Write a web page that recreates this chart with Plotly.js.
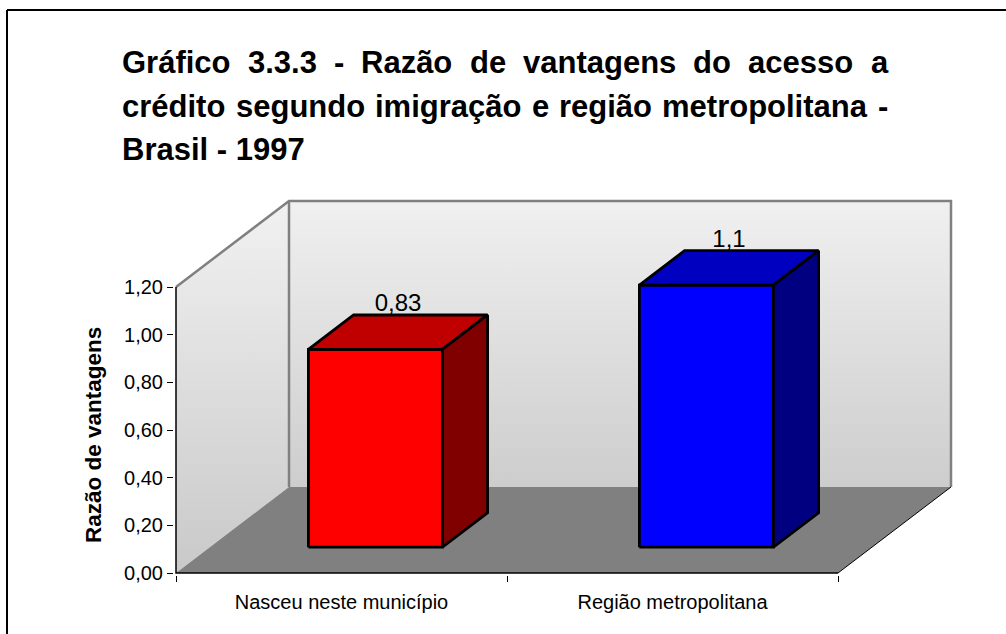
<!DOCTYPE html>
<html><head><meta charset="utf-8">
<script src="https://cdn.plot.ly/plotly-3.0.1.min.js"></script>
<style>html,body{margin:0;padding:0;background:#fff;overflow:hidden}#chart{width:1006px;height:634px;display:block}</style>
</head><body><div id="chart"></div>
<script>
// ---- data ----
const categories = ['Nasceu neste município', 'Região metropolitana'];
const values = [0.83, 1.1];
const valueLabels = ['0,83', '1,1'];
const yTickVals = [0, 0.2, 0.4, 0.6, 0.8, 1.0, 1.2];
const yTickText = ['0,00', '0,20', '0,40', '0,60', '0,80', '1,00', '1,20'];
const titleLines = [
  'Gráfico 3.3.3 - Razão de vantagens do acesso a',
  'crédito segundo imigração e região metropolitana -',
  'Brasil - 1997'
];
const yTitle = 'Razão de vantagens';
const frontColors = ['#ff0000', '#0000ff'];
const topColors = ['#c00000', '#0000c0'];
const sideColors = ['#800000', '#000080'];

// ---- geometry ----
const W = 1006, H = 634;
const PL = 174, PR = 954, PT = 199, PB = 575;   // plot area in px
const X0PX = 176, Y0PX = 573;                   // pixel of x=-0.5, y=0
const xPU = 331, yPU = 286 / 1.2;
const xRange = [-0.5 - (X0PX - PL) / xPU, -0.5 + (PR - X0PX) / xPU];
const yRange = [-(PB - Y0PX) / yPU, (Y0PX - PT) / yPU];
const dX = 113 / xPU, dY = 86 / yPU;   // depth of the 3D box
const yMax = 1.2;
const xL = -0.5, xR = categories.length - 0.5;
const hw = 67 / xPU;                  // bar half width
const fF = 0.3, fB = 0.7;             // bar depth (front / back fraction)
const FONT = 'Liberation Sans, Arial, sans-serif';
const px2paperX = p => (p - PL) / (PR - PL);
const px2paperY = p => (PB - p) / (PB - PT);

const traces = [];
const poly = (xs, ys, extra) => Object.assign({
  type: 'scatter', mode: 'lines', x: xs, y: ys, fill: 'toself',
  hoverinfo: 'skip', showlegend: false, line: {width: 0}
}, extra);

// left wall
traces.push(poly([xL, xL, xL + dX, xL + dX, xL], [0, yMax, yMax + dY, dY, 0], {
  fillgradient: {type: 'vertical', colorscale: [[0, '#c9c9c9'], [1, '#f1f1f1']]}
}));
// back wall
traces.push(poly([xL + dX, xR + dX, xR + dX, xL + dX, xL + dX], [dY, dY, yMax + dY, yMax + dY, dY], {
  fillgradient: {type: 'vertical', colorscale: [[0, '#cdcdcd'], [1, '#f0f0f0']]}
}));
// floor
traces.push(poly([xL, xR, xR + dX, xL + dX, xL], [0, 0, dY, dY, 0], {fillcolor: '#808080'}));
// wall edges
traces.push({type: 'scatter', mode: 'lines', hoverinfo: 'skip', showlegend: false,
  x: [xL, xL + dX, xR + dX, xR + dX, null, xL + dX, xL + dX],
  y: [yMax, yMax + dY, yMax + dY, dY, null, dY, yMax + dY],
  line: {color: '#808080', width: 2.5}});
// floor right edge
traces.push({type: 'scatter', mode: 'lines', hoverinfo: 'skip', showlegend: false,
  x: [xR, xR + dX], y: [0, dY], line: {color: '#000000', width: 1}});
// axis lines
traces.push({type: 'scatter', mode: 'lines', hoverinfo: 'skip', showlegend: false,
  x: [xL, xL, xR], y: [yMax, 0, 0], line: {color: '#000000', width: 1.5}});
// value labels (drawn before bars so bar tops can cover them)
traces.push({type: 'scatter', mode: 'text', hoverinfo: 'skip', showlegend: false,
  x: values.map((v, i) => i + 0.5 * dX),
  y: values.map(v => v + fB * dY - 2 / yPU),
  text: valueLabels, textposition: 'top center', cliponaxis: false,
  textfont: {family: FONT, size: 24, color: '#000000'}});
// bars
values.forEach((v, i) => {
  const fx = fF * dX, fy = fF * dY, bx = fB * dX, by = fB * dY;
  const a = i - hw, b = i + hw;
  const ln = {color: '#000000', width: 2.8};
  traces.push(poly([a + fx, b + fx, b + fx, a + fx, a + fx], [fy, fy, v + fy, v + fy, fy],
    {fillcolor: frontColors[i], line: ln}));
  traces.push(poly([a + fx, b + fx, b + bx, a + bx, a + fx], [v + fy, v + fy, v + by, v + by, v + fy],
    {fillcolor: topColors[i], line: ln}));
  traces.push(poly([b + fx, b + bx, b + bx, b + fx, b + fx], [fy, by, v + by, v + fy, fy],
    {fillcolor: sideColors[i], line: ln}));
});

// ---- title (justified lines) ----
const annotations = [];
const TFS = 31;
const ctx = document.createElement('canvas').getContext('2d');
ctx.font = 'bold ' + TFS + 'px "Liberation Sans"';
const tLeft = 121, tRight = 887;
const baselines = [73, 117, 160];
titleLines.forEach((line, li) => {
  const yc = baselines[li] - 0.35 * TFS;
  const justify = li < titleLines.length - 1;
  if (!justify) {
    annotations.push({text: line, xref: 'paper', yref: 'paper', x: px2paperX(tLeft), y: px2paperY(yc),
      xanchor: 'left', yanchor: 'middle', showarrow: false, borderpad: 0,
      font: {family: FONT, size: TFS, color: '#000000', weight: 'bold'}});
    return;
  }
  const words = line.split(' ');
  const widths = words.map(w => ctx.measureText(w).width);
  const total = widths.reduce((s, w) => s + w, 0);
  const gap = (tRight - tLeft - total) / (words.length - 1);
  let x = tLeft;
  words.forEach((w, wi) => {
    annotations.push({text: w, xref: 'paper', yref: 'paper', x: px2paperX(x), y: px2paperY(yc),
      xanchor: 'left', yanchor: 'middle', showarrow: false, borderpad: 0,
      font: {family: FONT, size: TFS, color: '#000000', weight: 'bold'}});
    x += widths[wi] + gap;
  });
});
// y axis title
annotations.push({text: yTitle, xref: 'paper', yref: 'paper', x: px2paperX(93), y: px2paperY(435),
  xanchor: 'center', yanchor: 'middle', textangle: -90, showarrow: false,
  font: {family: FONT, size: 22.5, color: '#000000', weight: 'bold'}});

const layout = {
  width: W, height: H,
  margin: {l: PL, r: W - PR, t: PT, b: H - PB, pad: 0},
  paper_bgcolor: '#ffffff', plot_bgcolor: 'rgba(0,0,0,0)',
  showlegend: false,
  font: {family: FONT, color: '#000000'},
  xaxis: {range: xRange, showgrid: false, zeroline: false, showline: false,
    tickmode: 'array', tickvals: categories.map((c, i) => i), ticktext: categories,
    ticks: '', ticklabelstandoff: 13, tickfont: {family: FONT, size: 20, color: '#000000'},
    minor: {tickmode: 'array', tickvals: [-0.5, 0.5, 1.5], ticks: 'outside', ticklen: 6,
      tickcolor: '#000000', tickwidth: 1, showgrid: false},
    fixedrange: true},
  yaxis: {range: yRange, showgrid: false, zeroline: false, showline: false,
    tickmode: 'array', tickvals: yTickVals, ticktext: yTickText,
    ticks: 'outside', ticklen: 6, tickcolor: '#000000', tickwidth: 1,
    tickfont: {family: FONT, size: 20, color: '#000000'}, fixedrange: true},
  annotations: annotations,
  shapes: [
    {type: 'line', xref: 'paper', yref: 'paper',
      x0: px2paperX(7), x1: px2paperX(7), y0: px2paperY(634), y1: px2paperY(10),
      line: {color: '#000000', width: 2}},
    {type: 'line', xref: 'paper', yref: 'paper',
      x0: px2paperX(7), x1: px2paperX(1006), y0: px2paperY(10), y1: px2paperY(10),
      line: {color: '#000000', width: 2}}
  ]
};
Plotly.newPlot('chart', traces, layout, {staticPlot: true, displayModeBar: false});
</script></body></html>
